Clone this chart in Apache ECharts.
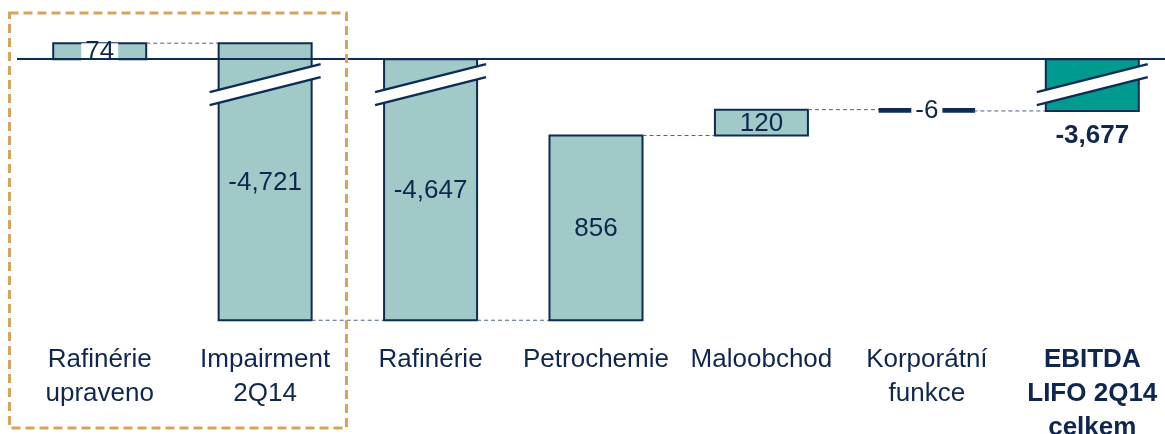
<!DOCTYPE html>
<html>
<head>
<meta charset="utf-8">
<script src="https://cdn.jsdelivr.net/npm/echarts@6/dist/echarts.min.js"></script>
<style>html,body{margin:0;padding:0;background:#fff}#c{width:1165px;height:434px}</style>
</head>
<body>
<div id="c"></div>
<script>
// ---- data ----
var categories = ['Rafinérie\nupraveno', 'Impairment\n2Q14', 'Rafinérie', 'Petrochemie', 'Maloobchod', 'Korporátní\nfunkce', 'EBITDA\nLIFO 2Q14\ncelkem'];
var values = [74, -4721, -4647, 856, 120, -6, -3677];
var isTotal = [false, false, true, false, false, false, true];
var valueLabels = ['74', '-4,721', '-4,647', '856', '120', '-6', '-3,677'];
var breakRange = [-3555, -118];

// ---- build waterfall ranges ----
var running = 0, ranges = [], ends = [];
for (var i = 0; i < values.length; i++) {
  var start, end;
  if (isTotal[i]) { start = 0; end = values[i]; running = values[i]; }
  else { start = running; end = running + values[i]; running = end; }
  ranges.push([i, Math.min(start, end), Math.max(start, end)]);
  ends.push(end);
}

var NAVY = '#0C2B55', TEXT = '#0F274E', FILL = '#A0C9C8', TOTALFILL = '#009A8F';
var BARW = 93;
var FONT = 'Liberation Sans, Arial, sans-serif';
var FS = 26;

var chart = echarts.init(document.getElementById('c'));
chart.setOption({
  animation: false,
  grid: { left: 17, width: 1158, top: 16, height: 320, outerBoundsMode: 'none', containLabel: false },
  xAxis: {
    type: 'category', data: categories,
    axisLine: { show: false }, axisTick: { show: false },
    axisLabel: {
      interval: 0, margin: 7, color: TEXT, fontSize: FS, lineHeight: 34, fontFamily: FONT,
      formatter: function (v, idx) {
        if (idx === categories.length - 1) {
          return v.split('\n').map(function (s) { return '{b|' + s + '}'; }).join('\n');
        }
        return v;
      },
      rich: { b: { fontWeight: 'bold', fontSize: FS, lineHeight: 34, color: TEXT, fontFamily: FONT } }
    }
  },
  yAxis: {
    type: 'value', min: -4720, max: 200,
    breaks: [{ start: breakRange[0], end: breakRange[1], gap: 0 }],
    breakArea: { show: false },
    axisLine: { show: false }, axisTick: { show: false }, axisLabel: { show: false }, splitLine: { show: false }
  },
  series: [
    {
      type: 'line', data: [], z: 1, silent: true,
      markLine: {
        silent: true, symbol: 'none', label: { show: false },
        lineStyle: { color: NAVY, width: 2, type: 'solid' },
        data: [{ yAxis: 0 }]
      }
    },
    {
      type: 'custom', z: 3, silent: true,
      data: ranges,
      renderItem: function (params, api) {
        var i = api.value(0), lo = api.value(1), hi = api.value(2);
        var idx = params.dataIndex;
        var pTop = api.coord([i, hi]), pBot = api.coord([i, lo]);
        var cx = pTop[0], xL = cx - BARW / 2, xR = cx + BARW / 2;
        var h = pBot[1] - pTop[1];
        var children = [];
        var thin = h < 3;
        children.push({
          type: 'rect',
          shape: { x: xL, y: pTop[1], width: BARW, height: h },
          style: { fill: thin ? NAVY : (isTotal[idx] && idx === values.length - 1 ? TOTALFILL : FILL), stroke: NAVY, lineWidth: thin ? 3.5 : 2 }
        });
        // break marks
        if (lo < breakRange[0] && hi > breakRange[1]) {
          var yb = api.coord([i, breakRange[0]])[1];
          var ov = 9, d = 14, t = 6.5;
          var x1 = xL - ov, x2 = xR + ov;
          children.push({
            type: 'polygon',
            shape: { points: [[x1, yb + d - t], [x2, yb - d - t], [x2, yb - d + t], [x1, yb + d + t]] },
            style: { fill: '#fff' }
          });
          children.push({ type: 'line', shape: { x1: x1, y1: yb + d - t, x2: x2, y2: yb - d - t }, style: { stroke: NAVY, lineWidth: 2.5 } });
          children.push({ type: 'line', shape: { x1: x1, y1: yb + d + t, x2: x2, y2: yb - d + t }, style: { stroke: NAVY, lineWidth: 2.5 } });
        }
        // connector to next bar
        if (idx < values.length - 1) {
          var yc = api.coord([i, ends[idx]])[1];
          var nx = api.coord([i + 1, ends[idx]])[0];
          children.push({
            type: 'line',
            shape: { x1: xR, y1: yc, x2: nx - BARW / 2, y2: yc },
            style: { stroke: '#4C5F80', lineWidth: 1, lineDash: [4, 3] }
          });
        }
        // value label
        var last = idx === values.length - 1;
        var withBg = (idx === 0 || idx === 5);
        children.push({
          type: 'text',
          x: cx, y: last ? pBot[1] + 25 : (pTop[1] + pBot[1]) / 2 + 1,
          style: {
            text: valueLabels[idx], align: 'center', verticalAlign: 'middle',
            fontSize: FS, fontFamily: FONT, fontWeight: last ? 'bold' : 'normal', fill: TEXT,
            backgroundColor: withBg ? '#fff' : null, padding: withBg ? [0, 4] : 0, lineHeight: withBg ? 18 : FS
          }
        });
        return { type: 'group', children: children };
      }
    }
  ],
  graphic: [{
    type: 'rect', z: 10, silent: true,
    shape: { x: 9.5, y: 13, width: 337, height: 415 },
    style: { fill: null, stroke: '#D6A55B', lineWidth: 3, lineDash: [9, 5] }
  }]
});
</script>
</body>
</html>
